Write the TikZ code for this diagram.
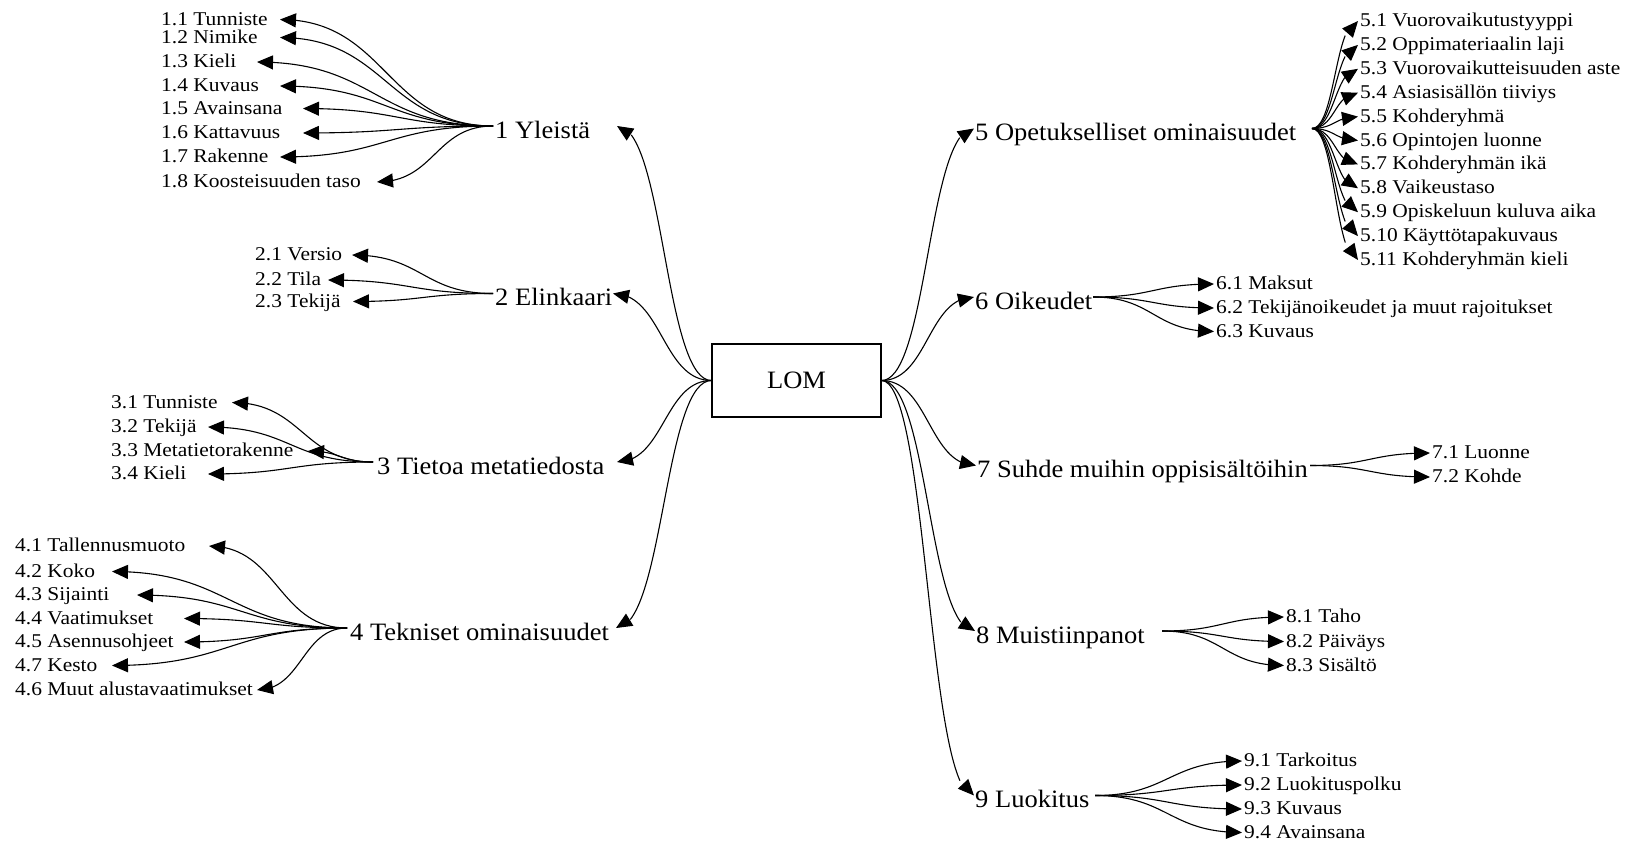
\documentclass[tikz,border=0pt]{standalone}
\usepackage{fontspec}
\setmainfont{Liberation Serif}
\newfontfamily\bigf{Liberation Serif}[FakeStretch=1.06]
\newfontfamily\smallf{Liberation Serif}[FakeStretch=1.1]
\usetikzlibrary{arrows.meta,bending,calc}
\begin{document}
\begin{tikzpicture}[x=1pt,y=-1pt,
  % S-shaped connector: both control points sit halfway across, level with the ends
  conn/.style={draw, line width=1.1pt, -{Triangle[length=16pt,width=14pt,flex]},
    to path={let \p1=(\tikztostart), \p2=(\tikztotarget) in
      .. controls ({(\x1+\x2)/2},\y1) and ({(\x1+\x2)/2},\y2) .. (\p2) \tikztonodes}},
  hub/.style={anchor=west, inner sep=0pt, font=\bigf\fontsize{25}{25}\selectfont,
    text height=24.8pt, text depth=0pt},
  leaf/.style={anchor=west, inner sep=0pt, font=\smallf\fontsize{19.5}{19.5}\selectfont,
    text height=11pt, text depth=0pt},
  root/.style={draw, line width=1.1pt, minimum width=169pt, minimum height=73pt,
    inner sep=0pt, font=\bigf\fontsize{25}{25}\selectfont}
]
\useasboundingbox (0,0) rectangle (1630,844);

% centre
\node[root] (lom) at (796.5,380.5) {LOM};

% main branches
\node[hub] (h1) at (495,126)   {1 Yleistä};
\node[hub] (h2) at (495,293.5) {2 Elinkaari};
\node[hub] (h3) at (377,462)   {3 Tietoa metatiedosta};
\node[hub] (h4) at (350,628)   {4 Tekniset ominaisuudet};
\node[hub] (h5) at (975,128.5) {5 Opetukselliset ominaisuudet};
\node[hub] (h6) at (975,297)   {6 Oikeudet};
\node[hub] (h7) at (977,465.5) {7 Suhde muihin oppisisältöihin};
\node[hub] (h8) at (976,631)   {8 Muistiinpanot};
\node[hub] (h9) at (975,795.5) {9 Luokitus};

% 1 Yleistä
\node[leaf] (l11) at (161,19.5)  {1.1 Tunniste};
\node[leaf] (l12) at (161,37.5)  {1.2 Nimike};
\node[leaf] (l13) at (161,62)    {1.3 Kieli};
\node[leaf] (l14) at (161,86)    {1.4 Kuvaus};
\node[leaf] (l15) at (161,108.5) {1.5 Avainsana};
\node[leaf] (l16) at (161,133)   {1.6 Kattavuus};
\node[leaf] (l17) at (161,157)   {1.7 Rakenne};
\node[leaf] (l18) at (161,182)   {1.8 Koosteisuuden taso};

% 2 Elinkaari
\node[leaf] (l21) at (255,255)   {2.1 Versio};
\node[leaf] (l22) at (255,280)   {2.2 Tila};
\node[leaf] (l23) at (255,301.5) {2.3 Tekijä};

% 3 Tietoa metatiedosta
\node[leaf] (l31) at (111,402.5) {3.1 Tunniste};
\node[leaf] (l32) at (111,427)   {3.2 Tekijä};
\node[leaf] (l33) at (111,451)   {3.3 Metatietorakenne};
\node[leaf] (l34) at (111,474)   {3.4 Kieli};

% 4 Tekniset ominaisuudet
\node[leaf] (l41) at (15,546)   {4.1 Tallennusmuoto};
\node[leaf] (l42) at (15,571.5) {4.2 Koko};
\node[leaf] (l43) at (15,595)   {4.3 Sijainti};
\node[leaf] (l44) at (15,618.5) {4.4 Vaatimukset};
\node[leaf] (l45) at (15,642)   {4.5 Asennusohjeet};
\node[leaf] (l47) at (15,665.5) {4.7 Kesto};
\node[leaf] (l46) at (15,690)   {4.6 Muut alustavaatimukset};

% 5 Opetukselliset ominaisuudet
\node[leaf] (l51)  at (1360,21)    {5.1 Vuorovaikutustyyppi};
\node[leaf] (l52)  at (1360,44.9)  {5.2 Oppimateriaalin laji};
\node[leaf] (l53)  at (1360,68.8)  {5.3 Vuorovaikutteisuuden aste};
\node[leaf] (l54)  at (1360,92.7)  {5.4 Asiasisällön tiiviys};
\node[leaf] (l55)  at (1360,116.6) {5.5 Kohderyhmä};
\node[leaf] (l56)  at (1360,140.5) {5.6 Opintojen luonne};
\node[leaf] (l57)  at (1360,164.4) {5.7 Kohderyhmän ikä};
\node[leaf] (l58)  at (1360,188.3) {5.8 Vaikeustaso};
\node[leaf] (l59)  at (1360,212.2) {5.9 Opiskeluun kuluva aika};
\node[leaf] (l510) at (1360,236.1) {5.10 Käyttötapakuvaus};
\node[leaf] (l511) at (1360,260)   {5.11 Kohderyhmän kieli};

% 6 Oikeudet
\node[leaf] (l61) at (1216,284)   {6.1 Maksut};
\node[leaf] (l62) at (1216,308)   {6.2 Tekijänoikeudet ja muut rajoitukset};
\node[leaf] (l63) at (1216,331.5) {6.3 Kuvaus};

% 7 Suhde muihin oppisisältöihin
\node[leaf] (l71) at (1432,453) {7.1 Luonne};
\node[leaf] (l72) at (1432,477) {7.2 Kohde};

% 8 Muistiinpanot
\node[leaf] (l81) at (1286,617)   {8.1 Taho};
\node[leaf] (l82) at (1286,641.5) {8.2 Päiväys};
\node[leaf] (l83) at (1286,665.5) {8.3 Sisältö};

% 9 Luokitus
\node[leaf] (l91) at (1244,761)   {9.1 Tarkoitus};
\node[leaf] (l92) at (1244,785)   {9.2 Luokituspolku};
\node[leaf] (l93) at (1244,809)   {9.3 Kuvaus};
\node[leaf] (l94) at (1244,832.5) {9.4 Avainsana};

% centre to main branches
\draw[conn] (lom.west) to ([xshift=122pt]h1.west);
\draw[conn] (lom.west) to ([xshift=118pt]h2.west);
\draw[conn] (lom.west) to ([xshift=240pt]h3.west);
\draw[conn] (lom.west) to ([xshift=266pt]h4.west);
\draw[conn] (lom.east) to ([xshift=-1pt]h5.west);
\draw[conn] (lom.east) to ([xshift=-1pt]h6.west);
\draw[conn] (lom.east) to ([xshift=-1pt]h7.west);
\draw[conn] (lom.east) to ([xshift=-1pt]h8.west);
\draw[conn] (lom.east) to ([xshift=-1pt]h9.west);

% left branches: arrows end a little right of each label
\draw[conn] ([xshift=-2pt]h1.west) to ([xshift=119pt]l11.west);
\draw[conn] ([xshift=-2pt]h1.west) to ([xshift=119pt]l12.west);
\draw[conn] ([xshift=-2pt]h1.west) to ([xshift=96pt]l13.west);
\draw[conn] ([xshift=-2pt]h1.west) to ([xshift=119pt]l14.west);
\draw[conn] ([xshift=-2pt]h1.west) to ([xshift=142pt]l15.west);
\draw[conn] ([xshift=-2pt]h1.west) to ([xshift=142pt]l16.west);
\draw[conn] ([xshift=-2pt]h1.west) to ([xshift=119pt]l17.west);
\draw[conn] ([xshift=-2pt]h1.west) to ([xshift=216pt]l18.west);

\draw[conn] ([xshift=-2pt]h2.west) to ([xshift=97pt]l21.west);
\draw[conn] ([xshift=-2pt]h2.west) to ([xshift=73pt]l22.west);
\draw[conn] ([xshift=-2pt]h2.west) to ([xshift=98pt]l23.west);

\draw[conn] ([xshift=-4pt]h3.west) to ([xshift=121pt]l31.west);
\draw[conn] ([xshift=-4pt]h3.west) to ([xshift=97pt]l32.west);
\draw[conn] ([xshift=-4pt]h3.west) to ([xshift=197pt]l33.west);
\draw[conn] ([xshift=-4pt]h3.west) to ([xshift=97pt]l34.west);

\draw[conn] ([xshift=-3pt]h4.west) to ([xshift=194pt]l41.west);
\draw[conn] ([xshift=-3pt]h4.west) to ([xshift=97pt]l42.west);
\draw[conn] ([xshift=-3pt]h4.west) to ([xshift=122pt]l43.west);
\draw[conn] ([xshift=-3pt]h4.west) to ([xshift=169pt]l44.west);
\draw[conn] ([xshift=-3pt]h4.west) to ([xshift=169pt]l45.west);
\draw[conn] ([xshift=-3pt]h4.west) to ([xshift=97pt]l47.west);
\draw[conn] ([xshift=-3pt]h4.west) to ([xshift=242pt]l46.west);

% right branches: arrows end just before each label
\foreach \n in {51,52,53,54,55,56,57,58,59,510,511}
  \draw[conn] ([xshift=337pt]h5.west) to ([xshift=-2pt]l\n.west);
\foreach \n in {61,62,63}
  \draw[conn] ([xshift=118pt]h6.west) to ([xshift=-2pt]l\n.west);
\foreach \n in {71,72}
  \draw[conn] ([xshift=333pt]h7.west) to ([xshift=-2pt]l\n.west);
\foreach \n in {81,82,83}
  \draw[conn] ([xshift=186pt]h8.west) to ([xshift=-2pt]l\n.west);
\foreach \n in {91,92,93,94}
  \draw[conn] ([xshift=120pt]h9.west) to ([xshift=-2pt]l\n.west);
\end{tikzpicture}
\end{document}
